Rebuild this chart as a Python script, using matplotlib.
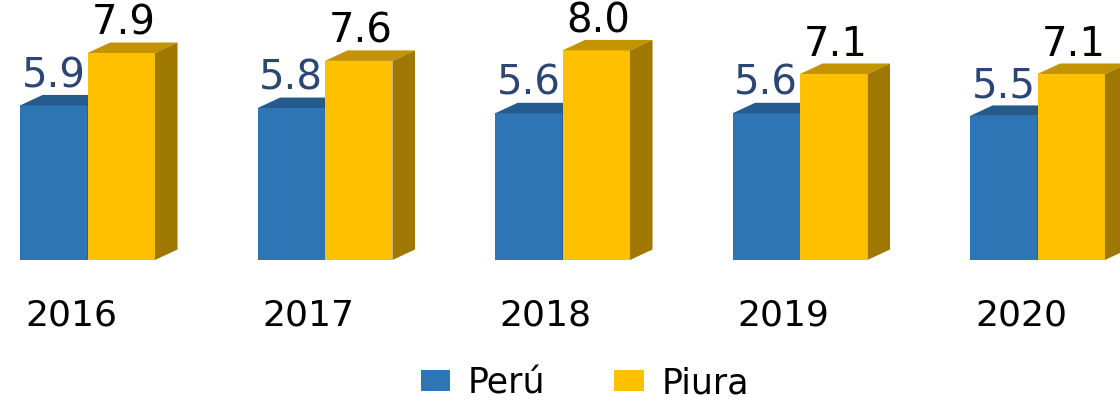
import matplotlib.pyplot as plt
from matplotlib.patches import Polygon, Patch
import numpy as np

years = ['2016', '2017', '2018', '2019', '2020']
peru = [5.9, 5.8, 5.6, 5.6, 5.5]
piura = [7.9, 7.6, 8.0, 7.1, 7.1]

# colours: front, top, side
blue = ('#2E75B6', '#245A8C', '#1F4E79')
gold = ('#FFC000', '#C49300', '#9E7800')

fig = plt.figure(figsize=(11.2, 4.05), dpi=100)
ax = fig.add_axes([0, 145 / 405, 1, 260 / 405])

w = 0.284          # bar width (data units)
dx, dy = 0.095, 0.40   # fake 3D depth offsets
x = np.arange(len(years))


def bar3d(left, value, cols):
    ax.add_patch(Polygon([(left, 0), (left + w, 0), (left + w, value), (left, value)],
                         closed=True, facecolor=cols[0], edgecolor='none'))
    ax.add_patch(Polygon([(left, value), (left + w, value), (left + w + dx, value + dy), (left + dx, value + dy)],
                         closed=True, facecolor=cols[1], edgecolor='none'))
    ax.add_patch(Polygon([(left + w, 0), (left + w + dx, dy), (left + w + dx, value + dy), (left + w, value)],
                         closed=True, facecolor=cols[2], edgecolor='none'))


for i in range(len(years)):
    bar3d(x[i] - w, peru[i], blue)
    bar3d(x[i], piura[i], gold)
    ax.text(x[i] - w / 2, peru[i] + 1.12, f'{peru[i]:.1f}', ha='center', va='center',
            fontsize=29, color='#2B4574')
    ax.text(x[i] + w / 2 + 0.01, piura[i] + 1.12, f'{piura[i]:.1f}', ha='center', va='center',
            fontsize=29, color='black')

ax.set_xlim(-87.5 / 237.5, (1120 - 87.5) / 237.5)
ax.set_ylim(0, 260 / 26.2)
ax.set_xticks(x - 0.07)
ax.set_xticklabels(years, fontsize=26)
ax.tick_params(axis='x', length=0, pad=28)
ax.set_yticks([])
for s in ax.spines.values():
    s.set_visible(False)

handles = [Patch(facecolor=blue[0], label='Perú'), Patch(facecolor=gold[0], label='Piura')]
fig.legend(handles=handles, loc='lower center', bbox_to_anchor=(0.522, -0.065), ncol=2,
           frameon=False, fontsize=25, handlelength=0.85, handleheight=0.55,
           handletextpad=0.5, columnspacing=2.0)

fig.savefig('out.png', dpi=100)
